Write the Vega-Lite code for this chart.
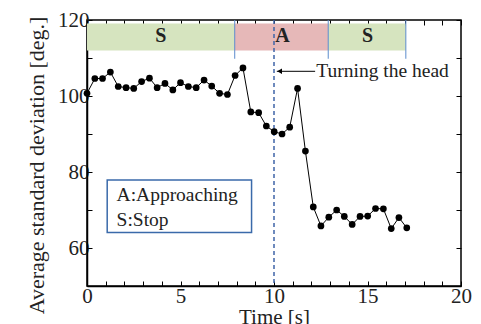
{
  "$schema": "https://vega.github.io/schema/vega-lite/v6.json",
  "width": 374,
  "height": 266,
  "autosize": "none",
  "padding": {"left": 87, "top": 20, "right": 20, "bottom": 38},
  "background": "white",
  "config": {
    "view": {"stroke": "black", "strokeWidth": 1.5},
    "font": "Liberation Serif",
    "axis": {
      "grid": false,
      "domainColor": "black",
      "domainWidth": 1.5,
      "tickColor": "black",
      "tickWidth": 1,
      "tickSize": -5,
      "labelFont": "Liberation Serif",
      "labelFontSize": 21,
      "labelColor": "#222",
      "titleFont": "Liberation Serif",
      "titleFontSize": 21,
      "titleFontWeight": "normal",
      "titleColor": "#222"
    }
  },
  "datasets": {
    "series": [
      {"t": 0, "v": 100.7}, {"t": 0.42, "v": 104.6}, {"t": 0.83, "v": 104.6}, {"t": 1.25, "v": 106.3},
      {"t": 1.67, "v": 102.5}, {"t": 2.09, "v": 102.2}, {"t": 2.5, "v": 102.0}, {"t": 2.92, "v": 103.8},
      {"t": 3.34, "v": 104.7}, {"t": 3.75, "v": 102.2}, {"t": 4.17, "v": 103.3}, {"t": 4.59, "v": 101.6},
      {"t": 5.0, "v": 103.5}, {"t": 5.42, "v": 102.5}, {"t": 5.84, "v": 102.2}, {"t": 6.26, "v": 104.2},
      {"t": 6.67, "v": 102.6}, {"t": 7.09, "v": 100.7}, {"t": 7.51, "v": 100.4}, {"t": 7.92, "v": 105.4},
      {"t": 8.34, "v": 107.4}, {"t": 8.76, "v": 95.8}, {"t": 9.18, "v": 95.6}, {"t": 9.59, "v": 92.1},
      {"t": 10.01, "v": 90.6}, {"t": 10.43, "v": 90.0}, {"t": 10.84, "v": 91.8}, {"t": 11.26, "v": 102.0},
      {"t": 11.68, "v": 85.5}, {"t": 12.1, "v": 70.8}, {"t": 12.51, "v": 65.8}, {"t": 12.93, "v": 68.1},
      {"t": 13.35, "v": 70.0}, {"t": 13.76, "v": 68.3}, {"t": 14.18, "v": 66.2}, {"t": 14.6, "v": 68.3},
      {"t": 15.01, "v": 68.4}, {"t": 15.43, "v": 70.4}, {"t": 15.85, "v": 70.3}, {"t": 16.27, "v": 65.1},
      {"t": 16.68, "v": 68.0}, {"t": 17.1, "v": 65.3}
    ],
    "bands": [
      {"start": 0, "end": 7.9, "phase": "S", "mid": 3.95},
      {"start": 7.9, "end": 12.9, "phase": "A", "mid": 10.45},
      {"start": 12.9, "end": 17.05, "phase": "S", "mid": 15.0}
    ],
    "edges": [{"t": 7.9}, {"t": 12.9}, {"t": 17.05}],
    "legend": [
      {"label": "A:Approaching", "v": 73.9},
      {"label": "S:Stop", "v": 67.5}
    ]
  },
  "layer": [
    {
      "data": {"name": "bands"},
      "mark": {"type": "rect"},
      "encoding": {
        "x": {"field": "start", "type": "quantitative", "scale": {"domain": [0, 20], "nice": false, "zero": false},
          "axis": {"orient": "bottom", "values": [0,1,2,3,4,5,6,7,8,9,10,11,12,13,14,15,16,17,18,19,20], "labelExpr": "datum.value % 5 === 0 ? datum.label : ''", "title": "Time [s]", "titlePadding": 0, "labelPadding": 4, "labelFlush": false}},
        "x2": {"field": "end"},
        "y": {"datum": 119.1, "type": "quantitative", "scale": {"domain": [50, 120], "nice": false, "zero": false},
          "axis": {"orient": "left", "values": [60, 70, 80, 90, 100, 110, 120], "labelExpr": "datum.value % 20 === 0 ? datum.label : ''", "title": "Average standard deviation [deg.]", "titleFontSize": 22, "titlePadding": 9, "labelPadding": 3, "titleY": 145}},
        "y2": {"datum": 112},
        "color": {"field": "phase", "type": "nominal", "scale": {"domain": ["S", "A"], "range": ["#d6e4bf", "#e6b8b8"]}, "legend": null}
      }
    },
    {
      "data": {"name": "edges"},
      "mark": {"type": "rule", "color": "#5b8bcc", "strokeWidth": 1},
      "encoding": {
        "x": {"field": "t", "type": "quantitative", "axis": null},
        "y": {"datum": 120, "axis": null},
        "y2": {"datum": 109.8}
      }
    },
    {
      "data": {"name": "bands"},
      "mark": {"type": "text", "font": "Liberation Serif", "fontSize": 20, "fontWeight": "bold", "color": "#222", "baseline": "middle"},
      "encoding": {
        "x": {"field": "mid", "type": "quantitative", "axis": null},
        "y": {"datum": 115.7, "axis": null},
        "text": {"field": "phase"}
      }
    },
    {
      "data": {"values": [{"t": 10}]},
      "mark": {"type": "rule", "color": "#3f64a8", "strokeWidth": 1.5, "strokeDash": [4, 3]},
      "encoding": {
        "x": {"field": "t", "type": "quantitative", "axis": {"orient": "top", "values": [0,1,2,3,4,5,6,7,8,9,10,11,12,13,14,15,16,17,18,19,20], "labels": false, "title": null, "domain": false}}
      }
    },
    {
      "data": {"name": "series"},
      "mark": {"type": "line", "color": "black", "strokeWidth": 1},
      "encoding": {
        "x": {"field": "t", "type": "quantitative", "axis": null},
        "y": {"field": "v", "type": "quantitative", "axis": {"orient": "right", "values": [60, 70, 80, 90, 100, 110, 120], "labels": false, "title": null, "domain": false}}
      }
    },
    {
      "data": {"name": "series"},
      "mark": {"type": "point", "filled": true, "color": "black", "size": 45, "opacity": 1},
      "encoding": {
        "x": {"field": "t", "type": "quantitative", "axis": null},
        "y": {"field": "v", "type": "quantitative", "axis": null}
      }
    },
    {
      "data": {"values": [{"a": 10.15, "b": 12.2, "v": 106.5}]},
      "mark": {"type": "rule", "color": "black", "strokeWidth": 1},
      "encoding": {
        "x": {"field": "a", "type": "quantitative", "axis": null},
        "x2": {"field": "b"},
        "y": {"field": "v", "type": "quantitative", "axis": null}
      }
    },
    {
      "data": {"values": [{"a": 10.3, "v": 106.5}]},
      "mark": {"type": "point", "shape": "triangle-left", "filled": true, "color": "black", "size": 30, "opacity": 1},
      "encoding": {
        "x": {"field": "a", "type": "quantitative", "axis": null},
        "y": {"field": "v", "type": "quantitative", "axis": null}
      }
    },
    {
      "data": {"values": [{"a": 12.26, "v": 106.5, "label": "Turning the head"}]},
      "mark": {"type": "text", "align": "left", "baseline": "middle", "font": "Liberation Serif", "fontSize": 19.5, "color": "#222"},
      "encoding": {
        "x": {"field": "a", "type": "quantitative", "axis": null},
        "y": {"field": "v", "type": "quantitative", "axis": null},
        "text": {"field": "label"}
      }
    },
    {
      "data": {"values": [{"a": 1.08, "b": 8.8, "top": 77.9, "bot": 64.05}]},
      "mark": {"type": "rect", "fill": "white", "stroke": "#3a6aaa", "strokeWidth": 1.5},
      "encoding": {
        "x": {"field": "a", "type": "quantitative", "axis": null},
        "x2": {"field": "b"},
        "y": {"field": "top", "type": "quantitative", "axis": null},
        "y2": {"field": "bot"}
      }
    },
    {
      "data": {"name": "legend"},
      "mark": {"type": "text", "align": "left", "baseline": "middle", "font": "Liberation Serif", "fontSize": 19.5, "color": "#222"},
      "encoding": {
        "x": {"datum": 1.58, "type": "quantitative", "axis": null},
        "y": {"field": "v", "type": "quantitative", "axis": null},
        "text": {"field": "label"}
      }
    }
  ],
  "resolve": {"axis": {"x": "independent", "y": "independent"}}
}
